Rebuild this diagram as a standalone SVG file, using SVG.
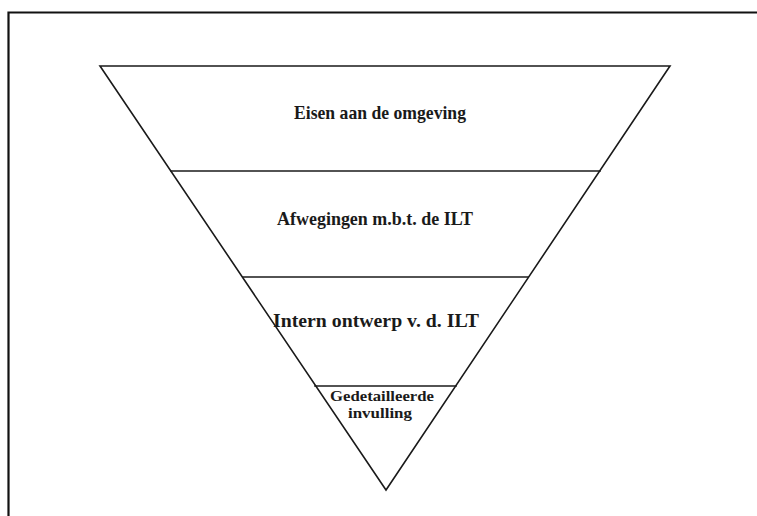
<svg xmlns="http://www.w3.org/2000/svg" width="757" height="516" viewBox="0 0 757 516">
<style>
.ln{stroke:#1a1a1a;stroke-width:1.6;fill:none;stroke-linecap:square}
.fr{stroke:#111;stroke-width:2.2;fill:none}
.t{font-family:"Liberation Serif","Times New Roman",serif;font-weight:bold;font-size:19px;fill:#1a1a1a;text-anchor:middle}
.s{font-size:15px}
</style>
<rect width="757" height="516" fill="#fff"/>
<g id="frame">
<path class="fr" d="M8.5,516 V12.5 H757"/>
</g>
<g id="connectors">
<path class="ln" d="M100,66 H670 L386,490 Z"/>
</g>
<g id="level1">
<text class="t" x="380" y="119" textLength="172" lengthAdjust="spacingAndGlyphs">Eisen aan de omgeving</text>
</g>
<g id="level2">
<line class="ln" x1="171" y1="171" x2="600" y2="171"/>
<text class="t" x="375" y="225" textLength="196" lengthAdjust="spacingAndGlyphs">Afwegingen m.b.t. de ILT</text>
</g>
<g id="level3">
<line class="ln" x1="243" y1="277" x2="528" y2="277"/>
<text class="t" x="376" y="327" textLength="206" lengthAdjust="spacingAndGlyphs">Intern ontwerp v. d. ILT</text>
</g>
<g id="level4">
<line class="ln" x1="315" y1="386" x2="456" y2="386"/>
<text class="t s" x="382" y="401" textLength="104" lengthAdjust="spacingAndGlyphs">Gedetailleerde</text>
<text class="t s" x="380" y="418" textLength="64" lengthAdjust="spacingAndGlyphs">invulling</text>
</g>
</svg>
